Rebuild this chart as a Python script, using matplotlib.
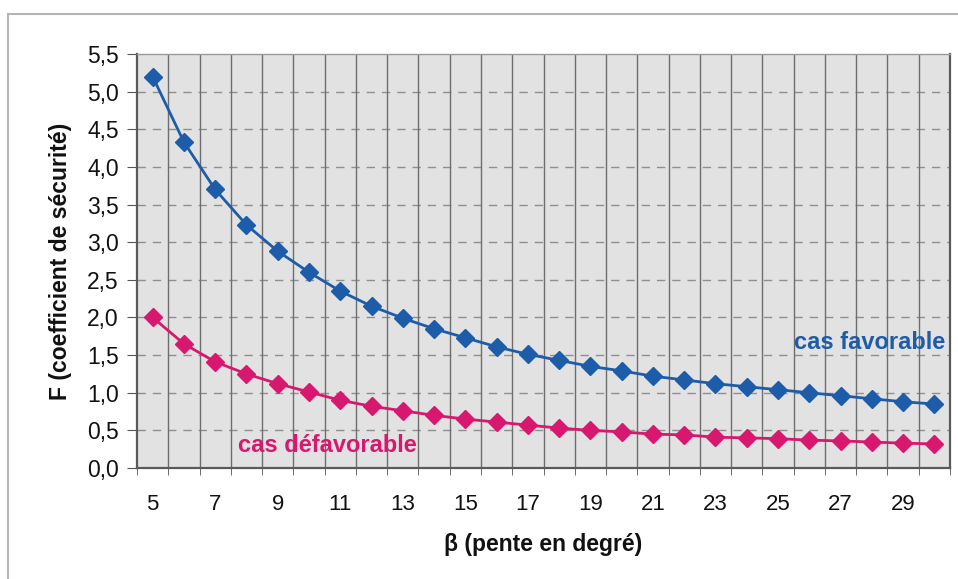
import matplotlib
matplotlib.use("Agg")
import matplotlib.pyplot as plt
from matplotlib.lines import Line2D
from matplotlib.ticker import FixedLocator, FuncFormatter

beta = list(range(5, 31))
favorable = [5.20, 4.33, 3.70, 3.23, 2.88, 2.60, 2.35, 2.15, 1.99, 1.85,
             1.73, 1.61, 1.51, 1.43, 1.35, 1.29, 1.22, 1.17, 1.12, 1.08,
             1.04, 1.00, 0.96, 0.92, 0.88, 0.85]
defavorable = [2.00, 1.65, 1.41, 1.25, 1.12, 1.01, 0.90, 0.82, 0.76, 0.70,
               0.65, 0.61, 0.57, 0.53, 0.50, 0.48, 0.45, 0.44, 0.41, 0.40,
               0.39, 0.37, 0.36, 0.345, 0.33, 0.32]
x_tick_labels = [str(v) for v in range(5, 30, 2)]
y_ticks = [0.0, 0.5, 1.0, 1.5, 2.0, 2.5, 3.0, 3.5, 4.0, 4.5, 5.0, 5.5]

plt.rcParams['font.family'] = ['Liberation Sans', 'DejaVu Sans']

W, H = 958, 579
fig = plt.figure(figsize=(W / 100, H / 100), dpi=100)
fig.patch.set_facecolor('white')

# outer frame lines
fig.add_artist(Line2D([8 / W, 1.0], [1 - 14 / H, 1 - 14 / H], transform=fig.transFigure,
                      color='#b5b5b5', lw=1.5))
fig.add_artist(Line2D([8 / W, 8 / W], [1 - 14 / H, 0.0], transform=fig.transFigure,
                      color='#b5b5b5', lw=1.5))

left, right, top, bottom = 137, 950, 54, 468
ax = fig.add_axes([left / W, 1 - bottom / H, (right - left) / W, (bottom - top) / H])
ax.set_facecolor('#e2e2e2')

blue = '#1d5ca8'
pink = '#d8176f'

ax.plot(beta, favorable, color=blue, lw=2.0, marker='D', ms=9.5, zorder=5)
ax.plot(beta, defavorable, color=pink, lw=2.0, marker='D', ms=9.5, zorder=5)

ax.set_xlim(4.5, 30.5)
ax.set_ylim(0, 5.5)

# y ticks and dashed horizontal grid
ax.yaxis.set_major_locator(FixedLocator(y_ticks))
ax.yaxis.set_major_formatter(FuncFormatter(lambda v, p: f"{v:.1f}".replace('.', ',')))
for yv in y_ticks[1:-1]:
    ax.axhline(yv, color='#8f8f8f', lw=1.0, ls=(0, (6, 5)), zorder=1)

# vertical grid at category boundaries
bounds = [b + 0.5 for b in range(4, 31)]
for xb in bounds[1:-1]:
    ax.axvline(xb, color='#6e6e6e', lw=1.0, zorder=1)

ax.xaxis.set_major_locator(FixedLocator([int(s) for s in x_tick_labels]))
ax.set_xticklabels(x_tick_labels)
ax.xaxis.set_minor_locator(FixedLocator(bounds))
ax.tick_params(axis='x', which='major', length=0, pad=19, labelsize=16, colors='#111111')
ax.tick_params(axis='x', which='minor', length=5, color='#555555', direction='out')
ax.tick_params(axis='y', which='major', length=7, color='#555555', pad=6, labelsize=16.5,
               labelcolor='#111111')

for side in ['left', 'bottom', 'right', 'top']:
    ax.spines[side].set_color('#5a5a5a')
    ax.spines[side].set_linewidth(1.6)
ax.spines['top'].set_color('#9a9a9a')
ax.spines['top'].set_linewidth(1.0)

ax.set_xlabel('β (pente en degré)', fontsize=16.5, fontweight='bold', labelpad=13,
              color='#111111')
ax.set_ylabel('F (coefficient de sécurité)', fontsize=16.5, fontweight='bold', labelpad=11,
              color='#111111')

ax.text(30.34, 1.67, 'cas favorable', color=blue, fontsize=17, fontweight='bold',
        ha='right', va='center', zorder=6)
ax.text(7.73, 0.305, 'cas défavorable', color=pink, fontsize=17, fontweight='bold',
        ha='left', va='center', zorder=6)

fig.savefig('out.png', dpi=100)
